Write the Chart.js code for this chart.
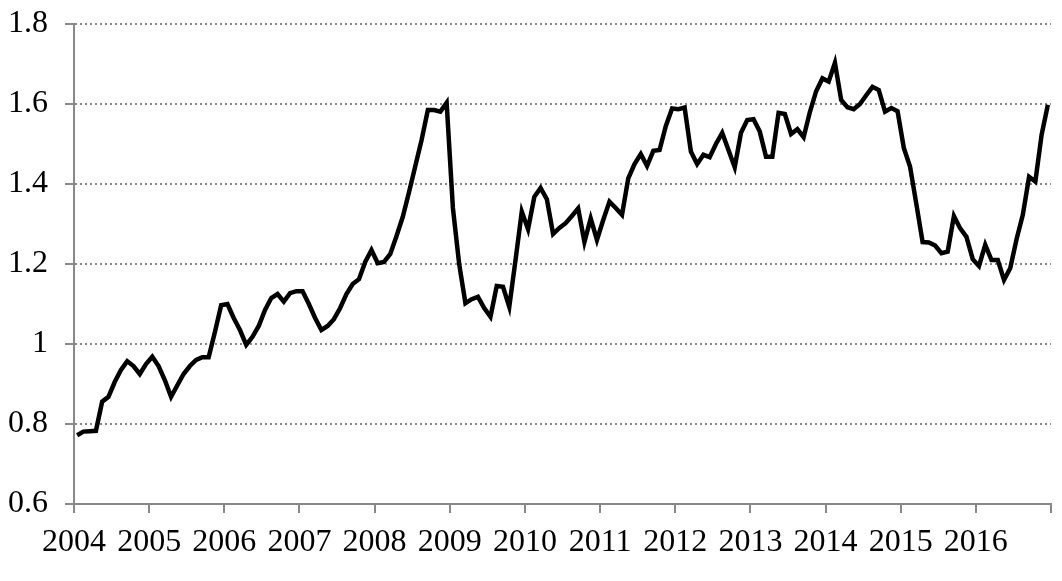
<!DOCTYPE html>
<html>
<head>
<meta charset="utf-8">
<title>Index 2004-2016</title>
<script src="https://cdn.jsdelivr.net/npm/chart.js@4.4.1/dist/chart.umd.min.js"></script>
<style>
  html, body { margin:0; padding:0; background:#fff; }
  canvas { display:block; }
</style>
</head>
<body>
<canvas id="chart" width="1062" height="581"></canvas>
<script>
// monthly values, one array per year (Jan..Dec)
const y2004 = [0.772,0.781,0.782,0.783,0.856,0.868,0.905,0.935,0.957,0.945,0.925,0.950];
const y2005 = [0.968,0.945,0.910,0.868,0.897,0.925,0.945,0.960,0.967,0.967,1.030,1.097];
const y2006 = [1.100,1.065,1.035,0.998,1.018,1.045,1.085,1.115,1.125,1.106,1.127,1.132];
const y2007 = [1.132,1.100,1.065,1.035,1.045,1.062,1.090,1.125,1.150,1.162,1.205,1.235];
const y2008 = [1.202,1.205,1.225,1.270,1.318,1.380,1.445,1.510,1.585,1.585,1.581,1.603];
const y2009 = [1.340,1.200,1.102,1.112,1.118,1.090,1.068,1.145,1.143,1.093,1.210,1.331];
const y2010 = [1.287,1.368,1.390,1.362,1.275,1.290,1.302,1.320,1.339,1.255,1.314,1.260];
const y2011 = [1.310,1.356,1.340,1.323,1.414,1.450,1.475,1.445,1.483,1.485,1.545,1.589];
const y2012 = [1.587,1.591,1.481,1.450,1.473,1.467,1.500,1.528,1.485,1.442,1.528,1.560];
const y2013 = [1.562,1.531,1.468,1.468,1.578,1.575,1.525,1.537,1.517,1.580,1.632,1.664];
const y2014 = [1.656,1.703,1.610,1.592,1.587,1.600,1.622,1.643,1.635,1.581,1.590,1.582];
const y2015 = [1.490,1.443,1.350,1.255,1.254,1.246,1.227,1.231,1.320,1.289,1.268,1.212];
const y2016 = [1.195,1.248,1.210,1.210,1.160,1.190,1.262,1.323,1.418,1.406,1.523,1.598];

const years = [2004,2005,2006,2007,2008,2009,2010,2011,2012,2013,2014,2015,2016];
const yTicks = [0.6,0.8,1,1.2,1.4,1.6,1.8];

const values = [].concat(y2004,y2005,y2006,y2007,y2008,y2009,y2010,y2011,y2012,y2013,y2014,y2015,y2016);
// x = months since Jan 2004, plotted at mid-month
const points = values.map((v,i)=>({ x: i + 0.5, y: v }));

const GREY = "#888888";
const FONT = { family: "'Liberation Serif', 'Times New Roman', serif", size: 32 };

new Chart(document.getElementById("chart").getContext("2d"), {
  type: "line",
  data: {
    datasets: [{
      data: points,
      borderColor: "#000",
      borderWidth: 4.5,
      pointRadius: 0,
      tension: 0,
      fill: false
    }]
  },
  options: {
    responsive: false,
    animation: false,
    layout: { padding: { top: 24, right: 11, left: 0, bottom: 0 } },
    plugins: { legend: { display:false }, tooltip: { enabled:false } },
    scales: {
      x: {
        type: "linear",
        min: 0,
        max: years.length * 12,
        afterBuildTicks: s => { s.ticks = years.concat(2017).map(y => ({ value: (y - 2004) * 12 })); },
        afterFit: s => { s.height = 77; s.paddingLeft = 0; s.paddingRight = 0; },
        grid: { drawOnChartArea:false, drawTicks:true, tickLength:9, color:GREY, lineWidth:2 },
        border: { color:GREY, width:2 },
        ticks: {
          autoSkip:false, maxRotation:0, color:"#000", font:FONT, padding:10,
          callback: v => v < years.length * 12 ? String(2004 + v/12) : ""
        }
      },
      y: {
        min: 0.6,
        max: 1.8,
        afterBuildTicks: s => { s.ticks = yTicks.map(v => ({ value: v })); },
        afterFit: s => { s.width = 74; s.paddingTop = 0; s.paddingBottom = 0; },
        grid: { color:GREY, lineWidth:2, drawTicks:true, tickLength:9, tickBorderDash:[1,0] },
        border: { color:GREY, width:2, dash:[2,3] },
        ticks: {
          color:"#000", font:FONT, padding:17,
          callback: v => String(+v.toFixed(1))
        }
      }
    }
  }
});
</script>
</body>
</html>
